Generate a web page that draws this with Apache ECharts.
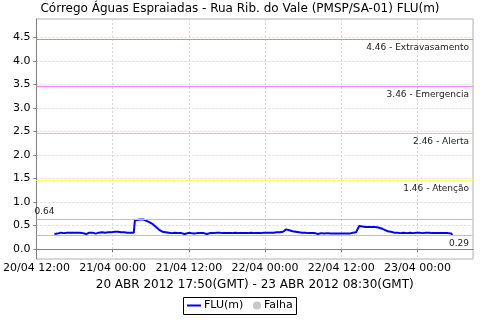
<!DOCTYPE html>
<html>
<head>
<meta charset="utf-8">
<script src="https://cdn.jsdelivr.net/npm/echarts@6/dist/echarts.min.js"></script>
<style>html,body{margin:0;padding:0;background:#fff}#c{width:480px;height:320px}</style>
</head>
<body>
<div id="c"></div>
<script>
// Time axis: hours since 20/04/2012 12:00 (local, GMT-3)
const titleText = 'Córrego Águas Espraiadas - Rua Rib. do Vale (PMSP/SA-01) FLU(m)';
const periodText = '20 ABR 2012 17:50(GMT) - 23 ABR 2012 08:30(GMT)';
const xTickHours = [0, 12, 24, 36, 48, 60];
const xTickLabels = ['20/04 12:00', '21/04 00:00', '21/04 12:00', '22/04 00:00', '22/04 12:00', '23/04 00:00'];
const yTickValues = [0, 0.5, 1, 1.5, 2, 2.5, 3, 3.5, 4, 4.5];

// sample times (hours since 20/04 12:00) and FLU(m) readings
const sampleHours = [
  2.83, 3.33, 3.83, 4.33, 4.83, 5.33, 5.83, 6.33, 6.83, 7.33,
  7.83, 8.33, 8.83, 9.33, 9.83, 10.33, 10.83, 11.33, 11.83, 12.33,
  12.83, 13.33, 13.83, 14.33, 14.83, 15.33, 15.5, 15.83, 16.33, 16.83,
  17.33, 17.83, 18.33, 18.83, 19.33, 19.83, 20.33, 20.83, 21.33, 21.83,
  22.33, 22.83, 23.33, 23.83, 24.33, 24.83, 25.33, 25.83, 26.33, 26.83,
  27.33, 27.83, 28.33, 28.83, 29.33, 29.83, 30.33, 30.83, 31.33, 31.83,
  32.33, 32.83, 33.33, 33.83, 34.33, 34.83, 35.33, 35.83, 36.33, 36.83,
  37.33, 37.83, 38.33, 38.83, 39.33, 39.83, 40.33, 40.83, 41.33, 41.83,
  42.33, 42.83, 43.33, 43.83, 44.33, 44.83, 45.33, 45.83, 46.33, 46.83,
  47.33, 47.83, 48.33, 48.83, 49.33, 49.83, 50.33, 50.6, 50.83, 51.33,
  51.83, 52.33, 52.83, 53.33, 53.83, 54.33, 54.83, 55.33, 55.83, 56.33,
  56.83, 57.33, 57.83, 58.33, 58.83, 59.33, 59.83, 60.33, 60.83, 61.33,
  61.83, 62.33, 62.83, 63.33, 63.83, 64.33, 64.83, 65.33, 65.5
];
const fluValues = [
  0.32, 0.33, 0.35, 0.34, 0.35, 0.35, 0.35, 0.35, 0.35, 0.34,
  0.32, 0.35, 0.35, 0.33, 0.35, 0.36, 0.35, 0.36, 0.36, 0.37,
  0.37, 0.36, 0.36, 0.35, 0.35, 0.35, 0.61, 0.62, 0.63, 0.63,
  0.60, 0.57, 0.53, 0.47, 0.41, 0.37, 0.36, 0.35, 0.34, 0.35,
  0.34, 0.34, 0.32, 0.34, 0.34, 0.33, 0.34, 0.34, 0.34, 0.32,
  0.34, 0.34, 0.35, 0.35, 0.34, 0.34, 0.34, 0.34, 0.35, 0.34,
  0.34, 0.34, 0.34, 0.35, 0.34, 0.34, 0.34, 0.35, 0.35, 0.35,
  0.35, 0.36, 0.36, 0.37, 0.42, 0.40, 0.38, 0.37, 0.36, 0.35,
  0.35, 0.34, 0.34, 0.34, 0.32, 0.34, 0.33, 0.34, 0.33, 0.33,
  0.33, 0.33, 0.33, 0.33, 0.33, 0.35, 0.36, 0.36, 0.49, 0.48,
  0.47, 0.47, 0.47, 0.47, 0.46, 0.44, 0.41, 0.38, 0.37, 0.35,
  0.35, 0.34, 0.35, 0.34, 0.35, 0.34, 0.35, 0.35, 0.34, 0.35,
  0.35, 0.34, 0.34, 0.34, 0.34, 0.34, 0.34, 0.33, 0.30
];

const thresholdValues = [4.46, 3.46, 2.46, 1.46];
const thresholdNames = ['Extravasamento', 'Emergencia', 'Alerta', 'Atenção'];
const thresholdColors = ['#f08080', '#ff80ff', '#ffc080', '#ffff60'];
const maxValue = 0.64;
const minValue = 0.29;

const FONT = 'DejaVu Sans';
const chart = echarts.init(document.getElementById('c'), null, {renderer: 'canvas'});

const markData = thresholdValues.map((v, i) => ({
  yAxis: v,
  lineStyle: {color: thresholdColors[i], width: 1, type: 'solid', opacity: 1},
  label: {formatter: v.toFixed(2) + ' - ' + thresholdNames[i], position: 'insideEndBottom'}
}));
markData.push({
  yAxis: maxValue,
  lineStyle: {color: '#c0c0c0', width: 1, type: 'solid', opacity: 1},
  label: {formatter: maxValue.toFixed(2), position: 'insideStartTop', distance: [-2, 3]}
});
markData.push({
  yAxis: minValue,
  lineStyle: {color: '#c0c0c0', width: 1, type: 'solid', opacity: 1},
  label: {formatter: minValue.toFixed(2), position: 'insideEndBottom'}
});

chart.setOption({
  animation: false,
  backgroundColor: '#ffffff',
  textStyle: {fontFamily: FONT},
  title: {
    text: titleText, left: 'center', top: -2,
    textStyle: {fontFamily: FONT, fontSize: 12, fontWeight: 'normal', color: '#000'}
  },
  legend: [
    {
      left: 187, top: 300, padding: 0, itemWidth: 14, itemHeight: 2,
      icon: 'rect', itemGap: 4,
      textStyle: {fontFamily: FONT, fontSize: 11, color: '#000', padding: [0, 0, 0, -2]},
      data: [{name: 'FLU(m)', itemStyle: {color: '#0000ff'}}]
    },
    {
      left: 253, top: 300, padding: 0, itemWidth: 8, itemHeight: 8,
      icon: 'circle', itemGap: 4,
      textStyle: {fontFamily: FONT, fontSize: 11, color: '#000', padding: [0, 0, 0, -2]},
      data: [{name: 'Falha', itemStyle: {color: '#c8c8c8'}}]
    }
  ],
  graphic: [{
    type: 'rect', silent: true,
    shape: {x: 183.5, y: 297.5, width: 113, height: 17},
    style: {fill: 'none', stroke: '#000', lineWidth: 1}
  }],
  grid: {
    left: 32, right: 7, top: 19, bottom: 61,
    show: true, borderColor: '#b0b0b0', borderWidth: 1, backgroundColor: '#fff'
  },
  xAxis: {
    type: 'value', min: 0, max: 68.75, interval: 12,
    name: periodText, nameLocation: 'middle', nameGap: 16,
    nameTextStyle: {fontFamily: FONT, fontSize: 12, color: '#000'},
    axisLine: {show: true, lineStyle: {color: '#808080'}},
    axisTick: {show: true, length: 3, lineStyle: {color: '#808080'}},
    axisLabel: {
      showMaxLabel: false, margin: 4,
      fontFamily: FONT, fontSize: 11, color: '#000',
      formatter: v => { const i = xTickHours.indexOf(v); return i >= 0 ? xTickLabels[i] : ''; }
    },
    splitLine: {show: true, lineStyle: {color: '#d8d8d8', type: [2, 2], width: 1}}
  },
  yAxis: {
    type: 'value', min: -0.2107, max: 4.8957,
    axisLine: {show: true, lineStyle: {color: '#808080'}},
    axisTick: {show: true, length: 3, customValues: yTickValues, lineStyle: {color: '#808080'}},
    axisLabel: {
      customValues: yTickValues, margin: 6,
      fontFamily: FONT, fontSize: 11, color: '#000',
      formatter: v => v.toFixed(1)
    },
    splitLine: {show: true, lineStyle: {color: '#d8d8d8', type: [2, 2], width: 1}}
  },
  series: [
    {
      name: 'FLU(m)', type: 'line', symbol: 'none',
      data: sampleHours.map((h, i) => [h, fluValues[i]]),
      lineStyle: {color: '#0000ff', width: 2},
      itemStyle: {color: '#0000ff'},
      z: 3,
      markLine: {
        silent: true, symbol: 'none',
        label: {fontFamily: FONT, fontSize: 9, color: '#222', distance: 4},
        emphasis: {disabled: true},
        data: markData
      }
    },
    {
      name: 'Falha', type: 'line', data: [],
      itemStyle: {color: '#c8c8c8'}, lineStyle: {color: '#c8c8c8'}
    }
  ]
});
</script>
</body>
</html>
